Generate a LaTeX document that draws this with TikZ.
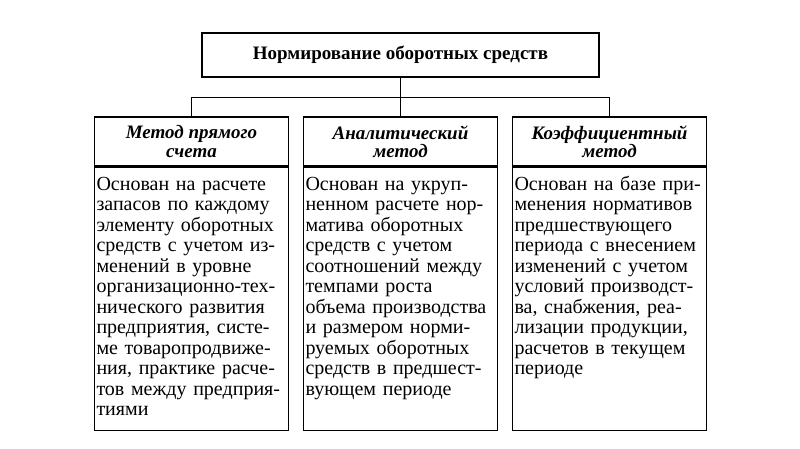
\documentclass[tikz,border=0pt]{standalone}
\usepackage{fontspec}
\setmainfont{Liberation Serif}
\usetikzlibrary{positioning}

\tikzset{
  titlebox/.style={draw, line width=1.4pt, minimum width=397pt, minimum height=44pt,
    font=\bfseries\fontsize{19}{22}\selectfont},
  headbox/.style={draw, line width=1.4pt, minimum width=194pt, minimum height=49pt,
    align=center, font=\bfseries\itshape\fontsize{19}{18.5}\selectfont},
  bodybox/.style={draw, line width=1.4pt, text width=190pt, inner xsep=2pt, inner ysep=0pt,
    text height=23pt, text depth=240pt, align=left, font=\fontsize{20}{20.5}\selectfont}
}

\begin{document}
\begin{tikzpicture}[x=1pt,y=-1pt,
    level distance=86.5pt, sibling distance=209pt,
    every child node/.style={headbox},
    edge from parent/.style={draw, line width=1.4pt},
    edge from parent path={(\tikzparentnode.south) -- ++(0,20) -| (\tikzchildnode.north)}]
\useasboundingbox (0,0) rectangle (800,449);
\node[titlebox] (norm) at (400.5,55) {Нормирование оборотных средств}
  child {node (direct) {Метод прямого\\счета}}
  child {node (analytic) {Аналитический\\метод}}
  child {node (coeff) {Коэффициентный\\метод}};
\node[bodybox, below=0pt of direct] (directtext) {Основан на расчете\\
  запасов по каждому\\
  элементу оборотных\\
  средств с учетом из-\\
  менений в уровне\\
  организационно-тех-\\
  нического развития\\
  предприятия, систе-\\
  ме товаропродвиже-\\
  ния, практике расче-\\
  тов между предприя-\\
  тиями};
\node[bodybox, below=0pt of analytic] (analytictext) {Основан на укруп-\\
  ненном расчете нор-\\
  матива оборотных\\
  средств с учетом\\
  соотношений между\\
  темпами роста\\
  объема производства\\
  и размером норми-\\
  руемых оборотных\\
  средств в предшест-\\
  вующем периоде};
\node[bodybox, below=0pt of coeff] (coefftext) {Основан на базе при-\\
  менения нормативов\\
  предшествующего\\
  периода с внесением\\
  изменений с учетом\\
  условий производст-\\
  ва, снабжения, реа-\\
  лизации продукции,\\
  расчетов в текущем\\
  периоде};
\end{tikzpicture}
\end{document}
